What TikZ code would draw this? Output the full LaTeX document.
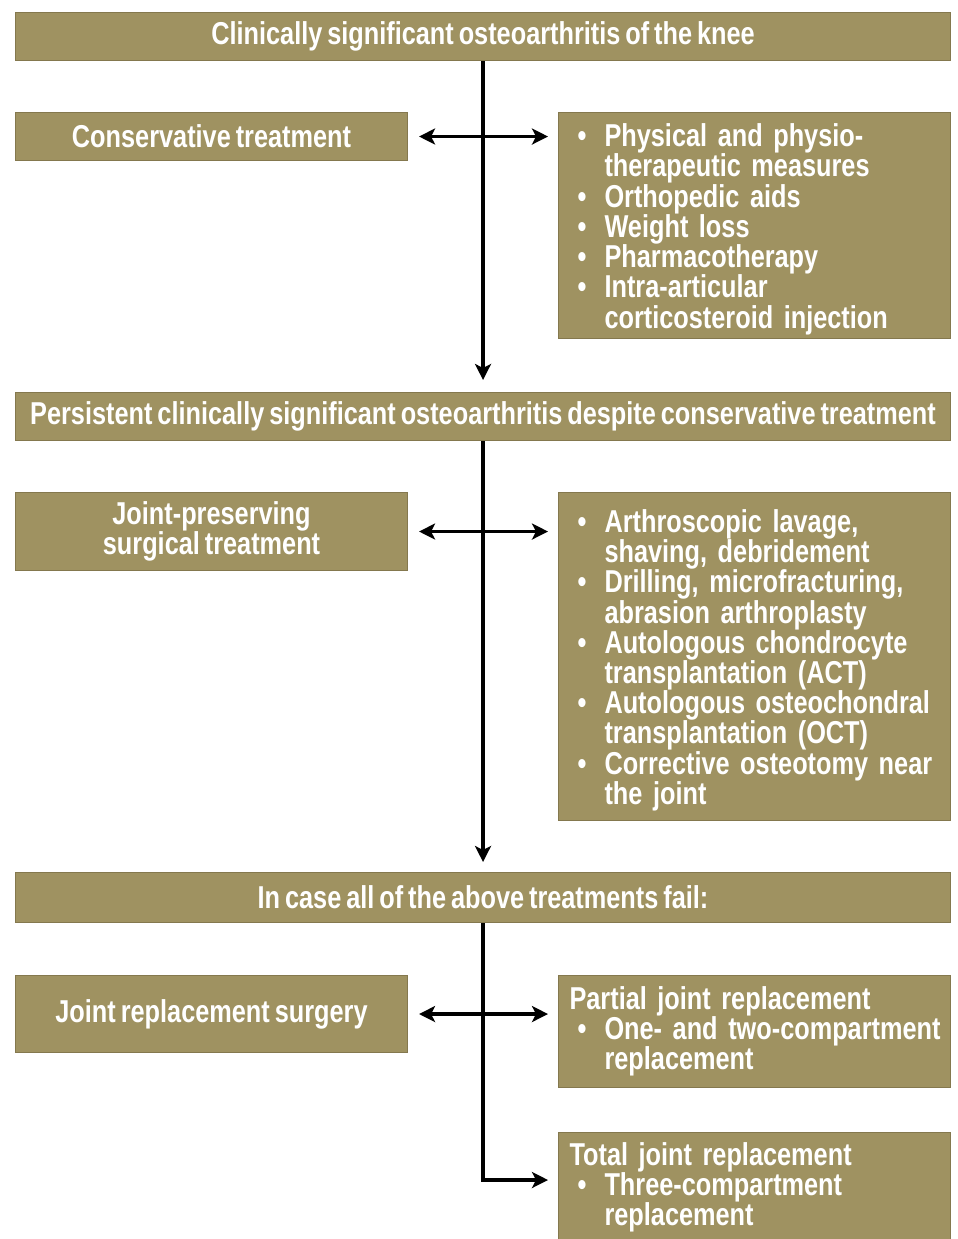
\documentclass[tikz,border=0pt]{standalone}
\usepackage{fontspec}
\setmainfont{Liberation Sans}[FakeStretch=0.8,WordSpace=0.7]
\usetikzlibrary{arrows.meta,positioning,calc}
\definecolor{khaki}{RGB}{159,146,97}
\definecolor{khakiedge}{RGB}{132,120,78}
\newcommand{\itm}[1]{\par\hangindent=0.7cm\hangafter=1\noindent\makebox[0.7cm][l]{\hspace{0.16cm}\textbullet}#1\par}
\tikzset{
  box/.style={draw=khakiedge,fill=khaki,line width=0.6pt,anchor=north west,text=white,
    font=\bfseries\fontsize{18}{17.2}\selectfont,inner sep=0pt},
  hdr/.style={box,minimum width=18.7cm,minimum height=0.96cm,align=center},
  side/.style={box,minimum width=7.84cm,minimum height=0.96cm,align=center},
  lst/.style={box,minimum width=7.84cm,text width=7.4cm,inner xsep=0.22cm,align=left},
  arr/.style={-{Stealth[length=0.32cm,width=0.32cm,inset=0.08cm]},line width=2.1pt},
  dbl/.style={{Stealth[length=0.32cm,width=0.32cm,inset=0.08cm]}-{Stealth[length=0.32cm,width=0.32cm,inset=0.08cm]},line width=2.1pt}
}
\begin{document}
\begin{tikzpicture}
  \useasboundingbox (0,0) rectangle (19.14,-24.78);
  \clip (0,0) rectangle (19.14,-24.78);
  % Stage 1
  \node[hdr] (knee) at (0.3,-0.24) {Clinically significant osteoarthritis of the knee};
  \node[side] (cons) at (0.3,-2.24) {Conservative treatment};
  \node[lst, minimum height=4.52cm] (consl) at (11.16,-2.24) {%
    \itm{Physical and physio-\newline therapeutic measures}
    \itm{Orthopedic aids}
    \itm{Weight loss}
    \itm{Pharmacotherapy}
    \itm{Intra-articular\newline corticosteroid injection}};

  % Stage 2
  \node[hdr] (pers) at (0.3,-7.84) {Persistent clinically significant osteoarthritis despite conservative treatment};
  \node[side, minimum height=1.56cm] (jps) at (0.3,-9.84) {Joint-preserving\\surgical treatment};
  \node[lst, minimum height=6.56cm] (jpsl) at (11.16,-9.84) {%
    \itm{Arthroscopic lavage,\newline shaving, debridement}
    \itm{Drilling, microfracturing,\newline abrasion arthroplasty}
    \itm{Autologous chondrocyte\newline transplantation (ACT)}
    \itm{Autologous osteochondral\newline transplantation (OCT)}
    \itm{Corrective osteotomy near\newline the joint}};

  % Stage 3
  \node[hdr, minimum height=1.0cm] (fail) at (0.3,-17.44) {In case all of the above treatments fail:};
  \node[side, minimum height=1.54cm] (jrs) at (0.3,-19.5) {Joint replacement surgery};
  \node[lst, minimum height=2.24cm] (part) at (11.16,-19.5) {%
    Partial joint replacement
    \itm{\mbox{One- and two-compartment}\newline replacement}};
  \node[lst, minimum height=2.2cm] (tot) at (11.16,-22.64) {%
    Total joint replacement
    \itm{Three-compartment\newline replacement}};

  % Trunk
  \coordinate (mid) at ($(cons.east)!0.5!(consl.west)$);
  \coordinate (totin) at (mid |- 0,-23.6);
  \draw[arr] (knee.south -| mid) -- ([yshift=0.24cm]pers.north -| mid);
  \draw[arr] (pers.south -| mid) -- ([yshift=0.2cm]fail.north -| mid);
  \draw[arr] (fail.south -| mid) -- (totin) -- ([xshift=-0.2cm]totin -| tot.west);

  % Side arrows
  \draw[dbl] ([xshift=0.22cm]cons.east) -- ([xshift=-0.2cm]cons.east -| consl.west);
  \draw[dbl] ([xshift=0.22cm]jps.east) -- ([xshift=-0.2cm]jps.east -| jpsl.west);
  \draw[dbl] ([xshift=0.22cm]jrs.east) -- ([xshift=-0.2cm]jrs.east -| part.west);
\end{tikzpicture}
\end{document}
